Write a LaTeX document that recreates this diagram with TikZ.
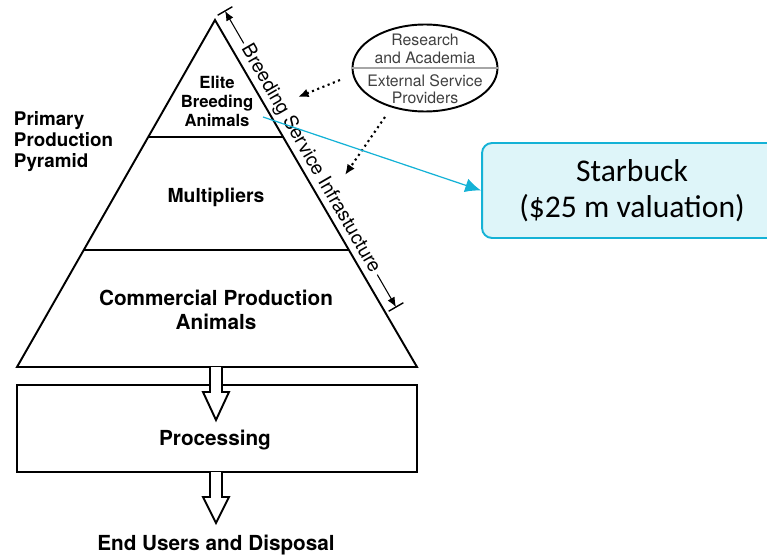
\documentclass[tikz,border=0pt]{standalone}
\usepackage{fontspec}
\setsansfont{TeX Gyre Heros}
\newfontfamily\calibri{Carlito}
\usetikzlibrary{calc, arrows.meta, shapes.geometric}
\tikzset{>={Latex[width=1.5mm,length=1.5mm]}}
\definecolor{sbcyan}{RGB}{20,178,214}
\definecolor{sbfill}{RGB}{222,245,249}

\begin{document}
\begin{tikzpicture}[x=0.02cm, y=-0.02cm, line width=1.1pt,
    lbl/.style={font=\sffamily\bfseries\fontsize{11.8}{13.6}\selectfont, align=center, inner sep=0pt},
    small/.style={font=\sffamily\fontsize{9}{9.9}\selectfont, text=black!75, align=center, inner sep=0pt},
    hollow/.style={fill=white, draw=black, line join=miter}]
    \useasboundingbox (0,0) rectangle (767,557);
    \clip (0,0) rectangle (767,557);

    \coordinate (apex) at (215,20);
    \coordinate (bl) at (17,367);
    \coordinate (br) at (417,367);
    \draw[line join=miter] (bl) -- (apex) -- (br) -- cycle;
    \draw ($(apex)!0.337!(bl)$) -- ($(apex)!0.337!(br)$);
    \draw ($(apex)!0.663!(bl)$) -- ($(apex)!0.663!(br)$);

    \node[lbl, font=\sffamily\bfseries\fontsize{9.5}{10.8}\selectfont] (elite) at (217,101) {Elite\\Breeding\\Animals};
    \node[lbl, font=\sffamily\bfseries\fontsize{11}{13}\selectfont] (mult) at (216,197) {Multipliers};
    \node[lbl] (comm) at (216,310) {Commercial Production\\Animals};
    \node[lbl, font=\sffamily\bfseries\fontsize{10.7}{12.2}\selectfont, align=left, anchor=west] (ppp) at (13,141.5) {Primary\\Production\\Pyramid};

    \node[draw, minimum width=8cm, minimum height=1.74cm] (proc) at (217,428.5) {};
    \node[lbl] (proctxt) at (215,440) {Processing};
    \draw[hollow] (210,367) -- (210,392) -- (203,392) -- (216,420) -- (229,392) -- (222,392) -- (222,367);
    \draw[hollow] (210,472) -- (210,497) -- (203,497) -- (216,523) -- (229,497) -- (222,497) -- (222,472);
    \node[lbl] (end) at (216,545) {End Users and Disposal};

    \coordinate (dimtop) at (225,11);
    \coordinate (dimbot) at (396,307);
    \node[font=\sffamily\fontsize{11}{13}\selectfont, rotate=-60, inner sep=1.5pt] (bsi) at ($(dimtop)!0.5!(dimbot)$) {Breeding Service Infrastucture};
    \draw[line width=0.6pt, -{Latex[length=5.5pt,width=4.5pt]}] (bsi.west) -- (dimtop);
    \draw[line width=0.6pt, -{Latex[length=5.5pt,width=4.5pt]}] (bsi.east) -- (dimbot);
    \draw[line width=0.8pt] ($(dimtop)!0.17cm!90:(dimbot)$) -- ($(dimtop)!0.17cm!-90:(dimbot)$);
    \draw[line width=0.8pt] ($(dimbot)!0.17cm!90:(dimtop)$) -- ($(dimbot)!0.17cm!-90:(dimtop)$);

    \node[draw, ellipse, minimum width=2.9cm, minimum height=1.74cm, inner sep=0pt] (res) at (425,68) {};
    \draw[black!35, line width=0.8pt] (res.west) -- (res.east);
    \node[small] (resac) at (425,49) {Research\\and Academia};
    \node[small] (esp) at (425,89.5) {External Service\\Providers};

    \coordinate (resout1) at (340,80);
    \coordinate (elitein) at (298,97);
    \coordinate (resout2) at (385,117);
    \coordinate (multin) at (345,175);
    \draw[dotted, line width=1.2pt, -{Latex[length=6pt,width=5pt]}] (resout1) -- (elitein);
    \draw[dotted, line width=1.2pt, -{Latex[length=6pt,width=5pt]}] (resout2) -- (multin);

    \node[draw=sbcyan, fill=sbfill, line width=1.1pt, rounded corners=5.7pt, minimum width=6cm, minimum height=1.9cm,
        font=\calibri\fontsize{18}{20.5}\selectfont, align=center] (starbuck) at (632,190.5) {Starbuck\\(\$25 m valuation)};
    \coordinate (eliteptr) at (263,117);
    \draw[sbcyan, line width=0.7pt, -{Latex[length=9pt,width=8pt]}] (eliteptr) -- (starbuck.west);
  \end{tikzpicture}
\end{document}
